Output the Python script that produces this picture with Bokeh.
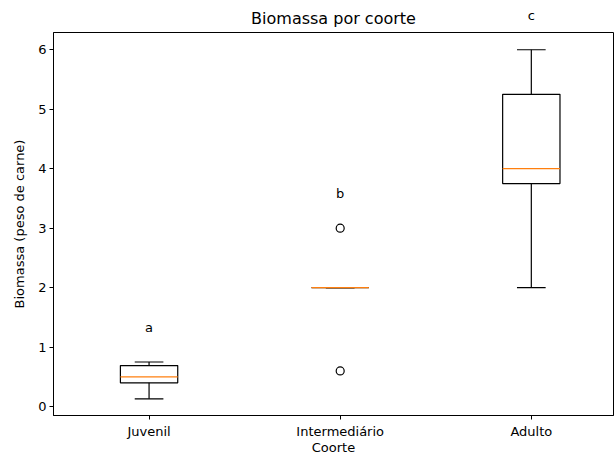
from bokeh.plotting import figure
from bokeh.models import FixedTicker, ColumnDataSource, Label
from bokeh.embed import file_html
from bokeh.resources import INLINE

categories = ["Juvenil", "Intermediário", "Adulto"]
positions = [1, 2, 3]
whisker_low = [0.13, 2.0, 2.0]
q1 = [0.40, 2.0, 3.75]
median = [0.50, 2.0, 4.0]
q3 = [0.69, 2.0, 5.25]
whisker_high = [0.75, 2.0, 6.0]
outlier_x = [2, 2]
outlier_y = [3.0, 0.6]
letters = ["a", "b", "c"]
letter_y = [1.25, 3.5, 6.5]

y_lo, y_hi = -0.15, 6.29
x_lo, x_hi = 0.5, 3.43   # the reference's right edge is cut off by the image
box_w = 0.3
cap_w = 0.15

src = ColumnDataSource(dict(
    x=positions,
    left=[p - box_w / 2 for p in positions],
    right=[p + box_w / 2 for p in positions],
    cl=[p - cap_w / 2 for p in positions],
    cr=[p + cap_w / 2 for p in positions],
    wl=whisker_low, q1=q1, med=median, q3=q3, wh=whisker_high,
))

FONT = "DejaVu Sans"

p = figure(width=614, height=457, output_backend="svg", toolbar_location=None,
           x_range=(x_lo, x_hi), y_range=(y_lo, y_hi),
           min_border_left=53, min_border_right=1, min_border_top=32, min_border_bottom=42)
p.title.text = "Biomassa por coorte"
p.title.align = "center"
p.title.text_font = FONT
p.title.text_font_size = "16px"
p.title.text_font_style = "normal"
p.title.text_color = "black"

p.xgrid.visible = False
p.ygrid.visible = False
p.outline_line_color = "black"
p.outline_line_width = 1

# whiskers
p.segment(x0="x", y0="wl", x1="x", y1="q1", source=src, line_color="black", line_width=1.2)
p.segment(x0="x", y0="q3", x1="x", y1="wh", source=src, line_color="black", line_width=1.2)
p.segment(x0="cl", y0="wl", x1="cr", y1="wl", source=src, line_color="black", line_width=1.2)
p.segment(x0="cl", y0="wh", x1="cr", y1="wh", source=src, line_color="black", line_width=1.2)
# boxes
p.quad(left="left", right="right", bottom="q1", top="q3", source=src,
       fill_color=None, line_color="black", line_width=1.2)
# medians
p.segment(x0="left", y0="med", x1="right", y1="med", source=src, line_color="#ff7f0e", line_width=1.2)
# outliers
p.scatter(outlier_x, outlier_y, marker="circle", size=8, fill_color=None,
          line_color="black", line_width=1.2)
# significance letters; a letter above the frame goes in a side panel so it is not clipped
for xi, yi, t in zip(positions, letter_y, letters):
    lab = Label(x=xi, y=yi, text=t, text_align="center", y_offset=5,
                text_baseline="alphabetic", text_font=FONT,
                text_font_size="13px", text_color="black")
    if yi > y_hi:
        p.add_layout(lab, "left")
    else:
        p.add_layout(lab)

xa = p.below[0]
ya = p.left[0]
for ax in (xa, ya):
    ax.axis_line_color = "black"
    ax.major_tick_line_color = "black"
    ax.major_tick_out = 4
    ax.major_tick_in = 0
    ax.minor_tick_line_color = None
    ax.major_label_text_font = FONT
    ax.major_label_text_font_size = "13px"
    ax.major_label_text_color = "black"
    ax.axis_label_text_font = FONT
    ax.axis_label_text_font_size = "13px"
    ax.axis_label_text_font_style = "normal"
    ax.axis_label_text_color = "black"

xa.ticker = FixedTicker(ticks=positions)
xa.major_label_overrides = {pos: c for pos, c in zip(positions, categories)}
xa.major_label_standoff = 4
xa.axis_label = "Coorte"
xa.axis_label_standoff = -2
ya.ticker = FixedTicker(ticks=[0, 1, 2, 3, 4, 5, 6])
ya.major_label_standoff = 3
ya.axis_label = "Biomassa (peso de carne)"
ya.axis_label_standoff = 8

open("out.html", "w").write(file_html(p, INLINE))
